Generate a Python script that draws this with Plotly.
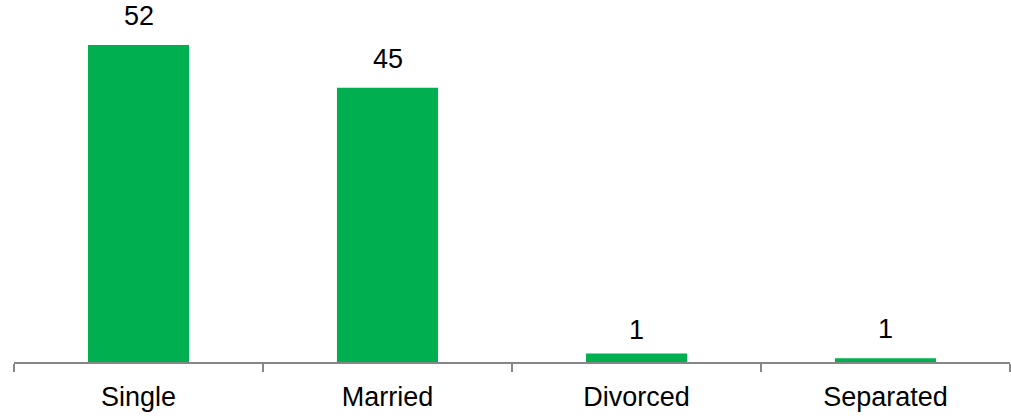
import plotly.graph_objects as go

categories = ["Single", "Married", "Divorced", "Separated"]
values = [52, 45, 1.4, 0.6]

BAR_GREEN = "#00B050"
AXIS_GREY = "#868686"
FONT = "Liberation Sans, Arial, sans-serif"

fig = go.Figure(
    go.Bar(
        x=categories,
        y=values,
        marker=dict(color=BAR_GREEN, line=dict(width=0)),
        hoverinfo="x+y",
    )
)

# value labels above each bar, rounded to whole numbers
label_shift = [12, 12, 6, 12]
for cat, val, shift in zip(categories, values, label_shift):
    fig.add_annotation(
        x=cat,
        y=val,
        text=f"{val:.0f}",
        showarrow=False,
        yanchor="bottom",
        yshift=shift,
        font=dict(family=FONT, size=27, color="#000000"),
    )

fig.update_layout(
    width=1011,
    height=420,
    margin=dict(l=14, r=1, t=20, b=58),
    paper_bgcolor="white",
    plot_bgcolor="white",
    bargap=0.594,
    showlegend=False,
    font=dict(family=FONT, size=27, color="#000000"),
)

fig.update_xaxes(
    showline=True,
    linecolor=AXIS_GREY,
    linewidth=2,
    ticks="outside",
    tickson="boundaries",
    ticklen=8,
    tickwidth=2,
    tickcolor=AXIS_GREY,
    ticklabelstandoff=10,
    showgrid=False,
    tickfont=dict(family=FONT, size=27, color="#000000"),
)

fig.update_yaxes(
    range=[0, 342 / 6.096],
    visible=False,
    showgrid=False,
    zeroline=False,
)

fig.write_html("out.html")
